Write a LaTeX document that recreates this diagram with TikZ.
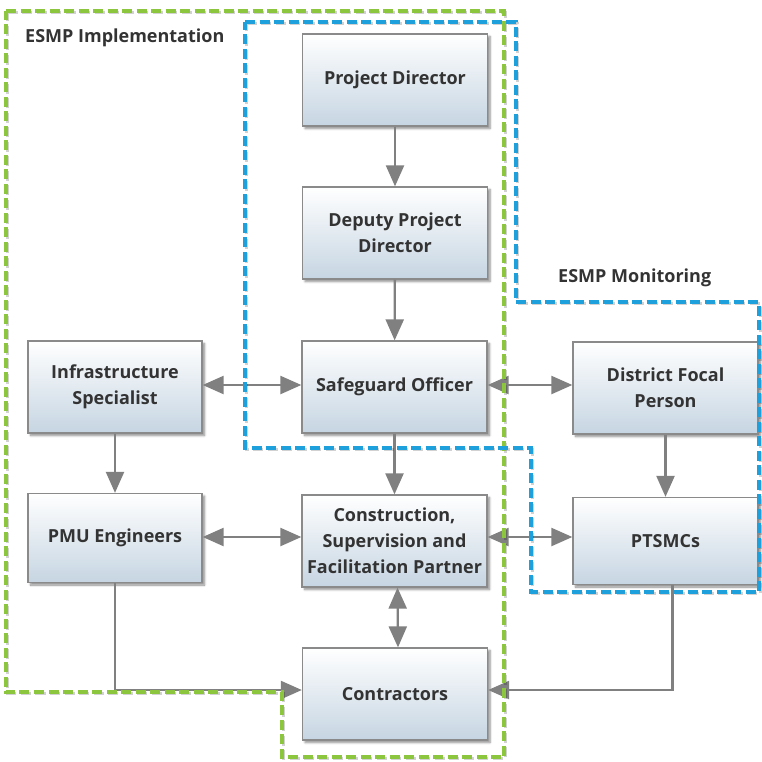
\documentclass[tikz,border=0pt]{standalone}
\usepackage{fontspec}
\setmainfont{Open Sans}
\usetikzlibrary{arrows.meta,shadows.blur,calc}
\definecolor{txt}{HTML}{333333}
\definecolor{boxbot}{HTML}{C6D5E2}
\definecolor{boxline}{HTML}{8A8A8A}
\definecolor{arr}{HTML}{808080}
\definecolor{grn}{HTML}{8CC63F}
\definecolor{blu}{HTML}{1EA0DC}
\tikzset{
  orgbox/.style={draw=boxline, line width=1.3pt, top color=white, bottom color=boxbot,
    minimum width=185pt, minimum height=92pt, inner sep=0pt, align=center,
    text=txt, font=\bfseries\fontsize{18}{26}\selectfont,
    blur shadow={shadow xshift=2.5pt, shadow yshift=-2.5pt, shadow blur steps=6, shadow opacity=45}},
  narrowbox/.style={orgbox, minimum width=174pt},
  tip/.tip={Triangle[length=21pt,width=18pt]},
  conn/.style={draw=arr, line width=2.3pt, -tip},
  biconn/.style={draw=arr, line width=2.3pt, tip-tip},
  grpline/.style={line width=3.3pt, dash pattern=on 10pt off 4.5pt},
  grpshadow/.style={grpline, draw=black, opacity=0.18, transform canvas={shift={(1.5pt,-1.5pt)}}},
  grplabel/.style={text=txt, font=\bfseries\fontsize{18}{22}\selectfont, anchor=west, inner sep=0pt}
}
\begin{document}
\begin{tikzpicture}[x=1pt,y=-1pt]
\useasboundingbox (0,0) rectangle (762,761);
% boxes
\node[orgbox] (PD) at (395,80) {Project Director};
\node[orgbox] (DPD) at (395,233) {Deputy Project\\Director};
\node[orgbox] (SO) at (394.5,387) {Safeguard Officer};
\node[narrowbox] (IS) at (115,387) {Infrastructure\\Specialist};
\node[orgbox] (DFP) at (665.5,388) {District Focal\\Person};
\node[narrowbox, minimum height=89pt] (PMU) at (115,538) {PMU Engineers};
\node[orgbox] (CSF) at (394.5,541) {Construction,\\Supervision and\\Facilitation Partner};
\node[orgbox, minimum height=87pt] (PT) at (665.5,541) {PTSMCs};
\node[orgbox] (CON) at (395,694) {Contractors};
% connectors
\draw[conn] (PD) -- (DPD);
\draw[conn] (DPD) -- (SO);
\draw[conn] (SO) -- (CSF);
\draw[biconn] (IS.east |- 0,385) -- (SO.west |- 0,385);
\draw[biconn] (SO.east |- 0,385) -- (DFP.west |- 0,385);
\draw[conn] (IS.south) -- (PMU.north);
\draw[conn] (DFP.south) -- (PT.north);
\draw[biconn] (PMU.east |- 0,537) -- (CSF.west |- 0,537);
\draw[biconn] (CSF.east |- 0,537) -- (PT.west |- 0,537);
\draw[biconn] ($(CSF.south)+(3,0)$) -- ($(CON.north)+(3,0)$);
\coordinate (pmuturn) at (PMU.south |- 0,690);
\coordinate (ptturn) at ($(PT.south)+(7,0)$);
\draw[conn] (PMU.south) -- (pmuturn) -- (pmuturn -| CON.west);
\draw[conn] (ptturn) -- (ptturn |- 0,690) -- (CON.east |- 0,690);
% group outlines
\draw[grpshadow] (6,11) -- (504,11) -- (504,757) -- (282,757) -- (282,692) -- (6,692) -- cycle;
\draw[grpshadow] (245,22) -- (516,22) -- (516,302) -- (759,302) -- (759,592) -- (531,592) -- (531,448) -- (245,448) -- cycle;
\draw[grpline, draw=grn] (6,11) -- (504,11) -- (504,757) -- (282,757) -- (282,692) -- (6,692) -- cycle;
\draw[grpline, draw=blu] (245,22) -- (516,22) -- (516,302) -- (759,302) -- (759,592) -- (531,592) -- (531,448) -- (245,448) -- cycle;
\node[grplabel] (L1) at (25,38) {ESMP Implementation};
\node[grplabel] (L2) at (558,278) {ESMP Monitoring};
\end{tikzpicture}
\end{document}
